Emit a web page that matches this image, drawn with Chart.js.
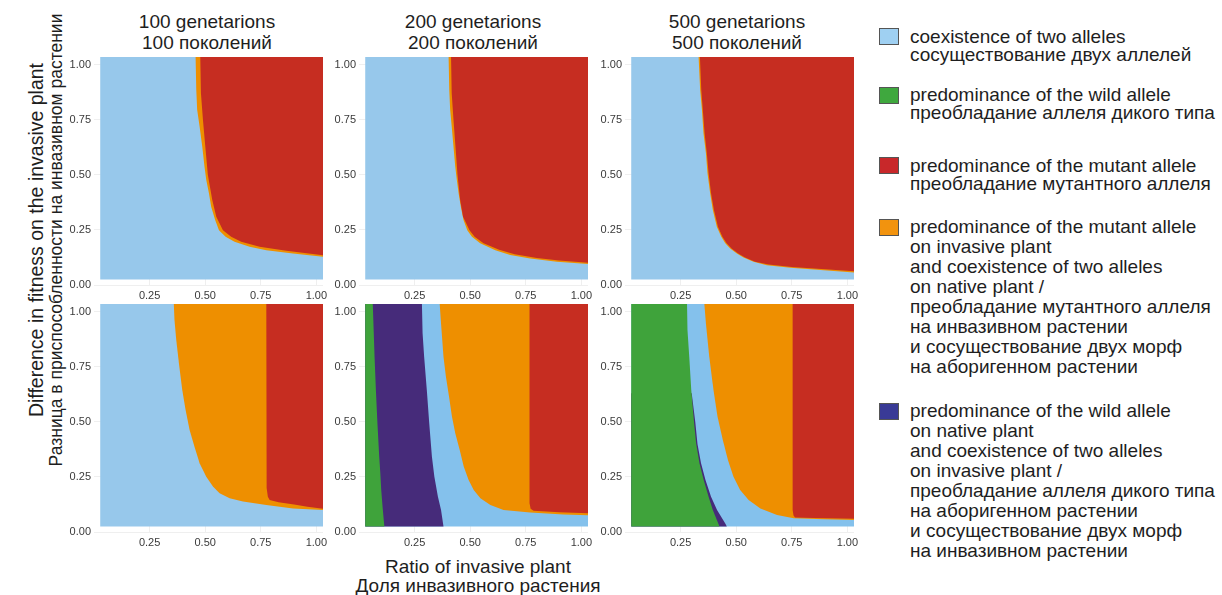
<!DOCTYPE html>
<html><head><meta charset="utf-8">
<script src="https://cdn.jsdelivr.net/npm/chart.js@4.4.1/dist/chart.umd.min.js"></script>
<style>
body{margin:0;width:1222px;height:595px;background:#fff;position:relative;overflow:hidden;font-family:"Liberation Sans",Arial,sans-serif;color:#1e1e1e}
canvas.pn{position:absolute}
.t{position:absolute;font-size:19px;line-height:21px;text-align:center;white-space:nowrap;transform:translateX(-50%)}
.sw{position:absolute;left:879px;width:18px;height:15px;border:1px solid #555}
.lt{position:absolute;left:910px;font-size:19px;white-space:nowrap}
.yt{position:absolute;width:520px;height:38px;line-height:19px;text-align:center;white-space:nowrap;transform:rotate(-90deg)}
</style></head><body>
<div class="t" style="left:207px;top:11px">100 genetarions<br>100 поколений</div>
<div class="t" style="left:473px;top:11px">200 genetarions<br>200 поколений</div>
<div class="t" style="left:737px;top:11px">500 genetarions<br>500 поколений</div>
<div class="t" style="left:478px;top:557px;line-height:19px">Ratio of invasive plant<br>Доля инвазивного растения</div>
<div class="yt" style="left:-214px;top:221px"><span style="font-size:19.5px">Difference in fitness on the invasive plant</span><br><span style="font-size:17.5px">Разница в приспособленности на инвазивном растении</span></div>

<div class="sw" style="top:28px;background:#9fd0f2"></div>
<div class="lt" style="top:28px;line-height:18px">coexistence of two alleles<br>сосуществование двух аллелей</div>
<div class="sw" style="top:87px;background:#3fa83e"></div>
<div class="lt" style="top:86px;line-height:18px">predominance of the wild allele<br>преобладание аллеля дикого типа</div>
<div class="sw" style="top:157px;background:#c8282a"></div>
<div class="lt" style="top:157px;line-height:18px">predominance of the mutant allele<br>преобладание мутантного аллеля</div>
<div class="sw" style="top:219px;background:#f2930e"></div>
<div class="lt" style="top:217px;line-height:20px">predominance of the mutant allele<br>on invasive plant<br>and coexistence of two alleles<br>on native plant /<br>преобладание мутантного аллеля<br>на инвазивном растении<br>и сосуществование двух морф<br>на аборигенном растении</div>
<div class="sw" style="top:403px;background:#393a96"></div>
<div class="lt" style="top:401px;line-height:20px">predominance of the wild allele<br>on native plant<br>and coexistence of two alleles<br>on invasive plant /<br>преобладание аллеля дикого типа<br>на аборигенном растении<br>и сосуществование двух морф<br>на инвазивном растении</div>

<canvas class="pn" id="c1" width="275" height="254" style="left:54px;top:53px"></canvas>
<canvas class="pn" id="c2" width="275" height="254" style="left:319px;top:53px"></canvas>
<canvas class="pn" id="c3" width="275" height="254" style="left:585px;top:53px"></canvas>
<canvas class="pn" id="c4" width="275" height="254" style="left:54px;top:300px"></canvas>
<canvas class="pn" id="c5" width="275" height="254" style="left:319px;top:300px"></canvas>
<canvas class="pn" id="c6" width="275" height="254" style="left:585px;top:300px"></canvas>

<script>
// ---- axes ----
const ratioTicks = [0.25, 0.50, 0.75, 1.00];
const fitnessTicks = [0.00, 0.25, 0.50, 0.75, 1.00];
const ratioExtent = [0.028, 1.03];     // simulated grid extent (ratio of invasive plant)
const fitnessExtent = [0.025, 1.035];  // simulated grid extent (fitness difference)

// ---- top row, 100 generations ----
const t100_mixFit   = [1.035,.886,.795,.719,.628,.537,.477,.416,.355,.295,.249,.219,.196,.174,.158,.143,.128];
const t100_mixRatio = [.457,.460,.464,.475,.487,.497,.505,.517,.527,.545,.562,.592,.632,.70,.775,.895,1.03];
const t100_mutFit   = [1.035,.871,.75,.613,.50,.386,.31,.249,.219,.196,.174,.155,.135];
const t100_mutRatio = [.478,.481,.49,.502,.512,.532,.55,.58,.617,.662,.745,.865,1.03];
// ---- top row, 200 generations ----
const t200_mixFit   = [1.035,.886,.795,.719,.628,.537,.477,.416,.355,.295,.249,.219,.189,.158,.136,.12,.106,.095];
const t200_mixRatio = [.403,.406,.41,.417,.425,.433,.44,.448,.458,.47,.487,.508,.545,.613,.68,.77,.89,1.03];
const t200_mutFit   = [1.035,.871,.75,.613,.50,.386,.31,.249,.219,.189,.16,.14,.123,.111,.101];
const t200_mutRatio = [.414,.417,.425,.435,.443,.455,.468,.497,.52,.56,.63,.70,.80,.90,1.03];
// ---- top row, 500 generations ----
const t500_mixFit   = [1.035,.886,.795,.689,.598,.507,.416,.34,.264,.219,.189,.166,.143,.125,.105,.09,.078,.067,.057];
const t500_mixRatio = [.331,.338,.346,.353,.364,.371,.383,.395,.413,.433,.451,.473,.503,.533,.578,.638,.744,.894,1.03];
const t500_mutFit   = [1.035,.886,.795,.689,.598,.507,.416,.34,.264,.219,.189,.166,.143,.125,.106,.093,.082,.071,.062];
const t500_mutRatio = [.337,.343,.35,.358,.368,.376,.387,.4,.418,.438,.457,.479,.509,.54,.585,.645,.75,.90,1.03];
// ---- bottom row, 100 generations ----
const b100_mixFit   = [1.035,.962,.872,.766,.645,.554,.463,.387,.312,.251,.206,.176,.153,.138,.123,.107,.10];
const b100_mixRatio = [.359,.362,.37,.382,.397,.412,.43,.452,.475,.505,.535,.565,.61,.67,.775,.895,1.03];
const b100_mutFit   = [1.035,.30,.20,.16,.145,.135,.125,.115,.106];
const b100_mutRatio = [.775,.775,.778,.782,.79,.83,.90,.96,1.03];
// ---- bottom row, 200 generations ----
const b200_wildFit     = [1.035,.796,.645,.493,.342,.266,.191,.115,.025];
const b200_wildRatio   = [.062,.07,.076,.083,.091,.096,.10,.106,.114];
const b200_nativeFit   = [1.035,.902,.796,.645,.493,.342,.251,.16,.10,.025];
const b200_nativeRatio = [.283,.286,.293,.305,.316,.328,.339,.355,.369,.38];
const b200_mixFit      = [1.035,.947,.796,.705,.614,.524,.448,.372,.297,.236,.191,.153,.123,.10,.088,.08,.076];
const b200_mixRatio    = [.363,.369,.38,.391,.405,.418,.433,.453,.471,.493,.516,.546,.591,.65,.77,.92,1.03];
const b200_mutFit      = [1.035,.13,.105,.097,.09,.085];
const b200_mutRatio    = [.767,.767,.772,.785,.90,1.03];
// ---- bottom row, 500 generations ----
const b500_wildFit     = [1.035,.917,.796,.645,.493,.402,.312,.236,.16,.10,.025];
const b500_wildRatio   = [.279,.281,.289,.298,.311,.32,.335,.354,.376,.395,.425];
const b500_nativeFit   = [.63,.50,.40,.312,.236,.16,.10,.039,.025];
const b500_nativeRatio = [.30,.316,.326,.342,.362,.387,.414,.451,.458];
const b500_mixFit      = [1.035,.947,.796,.645,.524,.418,.327,.251,.191,.145,.107,.077,.062,.058,.054];
const b500_mixRatio    = [.357,.364,.379,.398,.416,.44,.463,.488,.518,.556,.609,.684,.759,.894,1.03];
const b500_mutFit      = [1.035,.10,.075,.066,.063,.06];
const b500_mutRatio    = [.754,.754,.758,.765,.85,1.03];

// ---- colours ----
const C = {blue:'#97c8eb', blue2:'#84c1ec', red:'#c62d21', orange:'#ee8f00', green:'#3fa33b', purple:'#462b7a'};

Chart.defaults.font.family = '"Liberation Sans", Arial, sans-serif';

function pts(rs, fs){ return rs.map((r,i)=>({x:r, y:fs[i]})); }
function area(data, color){
  return {data, showLine:true, fill:'shape', backgroundColor:color, borderColor:color, borderWidth:0, pointRadius:0, tension:0};
}
function background(color){
  const [x0,x1]=ratioExtent, [y0,y1]=fitnessExtent;
  return area([{x:x0,y:y0},{x:x1,y:y0},{x:x1,y:y1},{x:x0,y:y1}], color);
}
// region to the right of / above an edge that ends at the right border
function rightOf(rs, fs, color){
  const p = [{x:ratioExtent[1], y:fitnessExtent[1]}].concat(pts(rs, fs));
  return area(p, color);
}
// region to the left of an edge
function leftOf(rs, fs, color){
  const p = pts(rs, fs);
  p.push({x:ratioExtent[0], y:fs[fs.length-1]});
  p.push({x:ratioExtent[0], y:fs[0]});
  return area(p, color);
}

// layers are given bottom-to-top; Chart.js paints dataset 0 last, so reverse
function panel(id, layers){
  const datasets = layers.slice().reverse();
  new Chart(document.getElementById(id), {
    type:'line',
    data:{datasets},
    options:{
      responsive:false, animation:false, events:[],
      layout:{padding:{top:4,right:6,left:0,bottom:0}},
      plugins:{legend:{display:false}, tooltip:{enabled:false}},
      scales:{
        x:{type:'linear', min:0, max:1.03,
          afterBuildTicks(s){ s.ticks = ratioTicks.map(v=>({value:v})); },
          afterFit(s){ s.height = 22; s.paddingLeft = 0; s.paddingRight = 0; },
          grid:{color:'#efefef', drawTicks:false}, border:{display:false},
          ticks:{padding:4, autoSkip:false, maxRotation:0, font:{size:11}, color:'#3a3a3a', callback:v=>Number(v).toFixed(2)}},
        y:{type:'linear', min:0, max:1.035,
          afterBuildTicks(s){ s.ticks = fitnessTicks.map(v=>({value:v})); },
          afterFit(s){ s.width = 40; s.paddingTop = 0; s.paddingBottom = 0; },
          grid:{color:'#efefef', drawTicks:false}, border:{display:false},
          ticks:{padding:3, autoSkip:false, font:{size:11}, color:'#3a3a3a', callback:v=>Number(v).toFixed(2)}}
      }
    }
  });
}

panel('c1', [background(C.blue),
  rightOf(t100_mixRatio, t100_mixFit, C.orange),
  rightOf(t100_mutRatio, t100_mutFit, C.red)]);
panel('c2', [background(C.blue),
  rightOf(t200_mixRatio, t200_mixFit, C.orange),
  rightOf(t200_mutRatio, t200_mutFit, C.red)]);
panel('c3', [background(C.blue),
  rightOf(t500_mixRatio, t500_mixFit, C.orange),
  rightOf(t500_mutRatio, t500_mutFit, C.red)]);
panel('c4', [background(C.blue),
  rightOf(b100_mixRatio, b100_mixFit, C.orange),
  rightOf(b100_mutRatio, b100_mutFit, C.red)]);
panel('c5', [background(C.blue2),
  leftOf(b200_nativeRatio, b200_nativeFit, C.purple),
  leftOf(b200_wildRatio, b200_wildFit, C.green),
  rightOf(b200_mixRatio, b200_mixFit, C.orange),
  rightOf(b200_mutRatio, b200_mutFit, C.red)]);
panel('c6', [background(C.blue2),
  leftOf(b500_nativeRatio, b500_nativeFit, C.purple),
  leftOf(b500_wildRatio, b500_wildFit, C.green),
  rightOf(b500_mixRatio, b500_mixFit, C.orange),
  rightOf(b500_mutRatio, b500_mutFit, C.red)]);
</script>
</body></html>
